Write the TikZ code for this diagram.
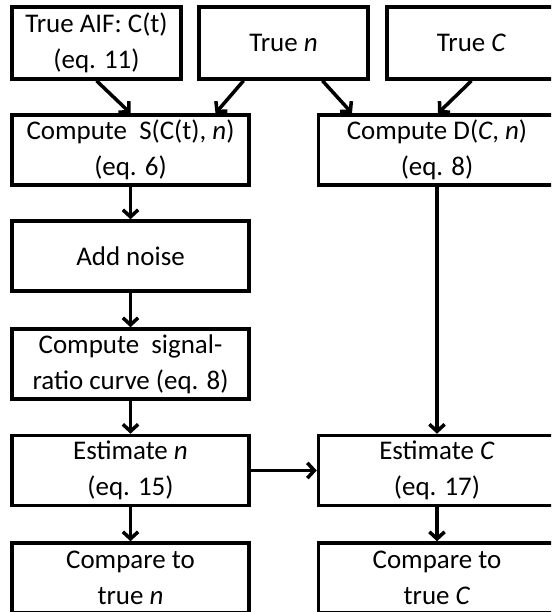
\documentclass[tikz,border=0pt]{standalone}
\usepackage{fontspec}
\setmainfont{Carlito}
\usetikzlibrary{arrows.meta}

\tikzset{
	flowbox/.style={draw, line width=3pt, align=center, inner sep=2pt,
		minimum width=7.11cm, minimum height=2.1cm,
		font=\fontsize{23}{30.6}\selectfont},
	inbox/.style={flowbox, minimum width=5.07cm, minimum height=2.16cm},
	flow/.style={line width=3pt, -{Straight Barb[length=6pt,width=13pt]}},
}

\begin{document}
\begin{tikzpicture}[x=0.03cm,y=-0.03cm]
				\useasboundingbox (0,0) rectangle (551,612);
				\clip (0,0) rectangle (551,612);
				
				\path (96.5,43) node[inbox] (aif) {True AIF: C(t)\\(eq. 11)};
				\path (283.5,43) node[inbox] (tn) {True \textit{n}};
				\path (471.5,43) node[inbox] (tc) {True \textit{C}};
				
				\path (130.5,150) node[flowbox] (cs) {Compute\ \ S(C(t), \textit{n})\\(eq. 6)};
				\path (437,150) node[flowbox] (cd) {Compute D(\textit{C}, \textit{n})\\(eq. 8)};
				\path (130.5,256) node[flowbox] (an) {Add noise};
				\path (130.5,364) node[flowbox] (sr) {Compute\ \ signal-\\ratio curve (eq. 8)};
				\path (130.5,470.5) node[flowbox] (en) {Estimate \textit{n}\\(eq. 15)};
				\path (437,470.5) node[flowbox] (ec) {Estimate \textit{C}\\(eq. 17)};
				\path (130.5,578) node[flowbox] (cn) {Compare to\\true \textit{n}};
				\path (437,578) node[flowbox] (cc) {Compare to\\true \textit{C}};
				
				% inputs
				\draw[flow] (aif.south) -- (cs.north);
				\draw[flow] ([shift={(-40,0)}]tn.south) -- ([shift={(85,0)}]cs.north);
				\draw[flow] ([shift={(39,0)}]tn.south) -- ([shift={(-85,0)}]cd.north);
				\draw[flow] (tc.south) -- ([shift={(1,0)}]cd.north);
				
				% left column
				\draw[flow] (cs) -- (an);
				\draw[flow] (an) -- (sr);
				\draw[flow] (sr) -- (en);
				\draw[flow] (en) -- (cn);
				
				% right column
				\draw[flow] (cd) -- (ec);
				\draw[flow] (en) -- (ec);
				\draw[flow] (ec) -- (cc);
				\end{tikzpicture}
\end{document}
